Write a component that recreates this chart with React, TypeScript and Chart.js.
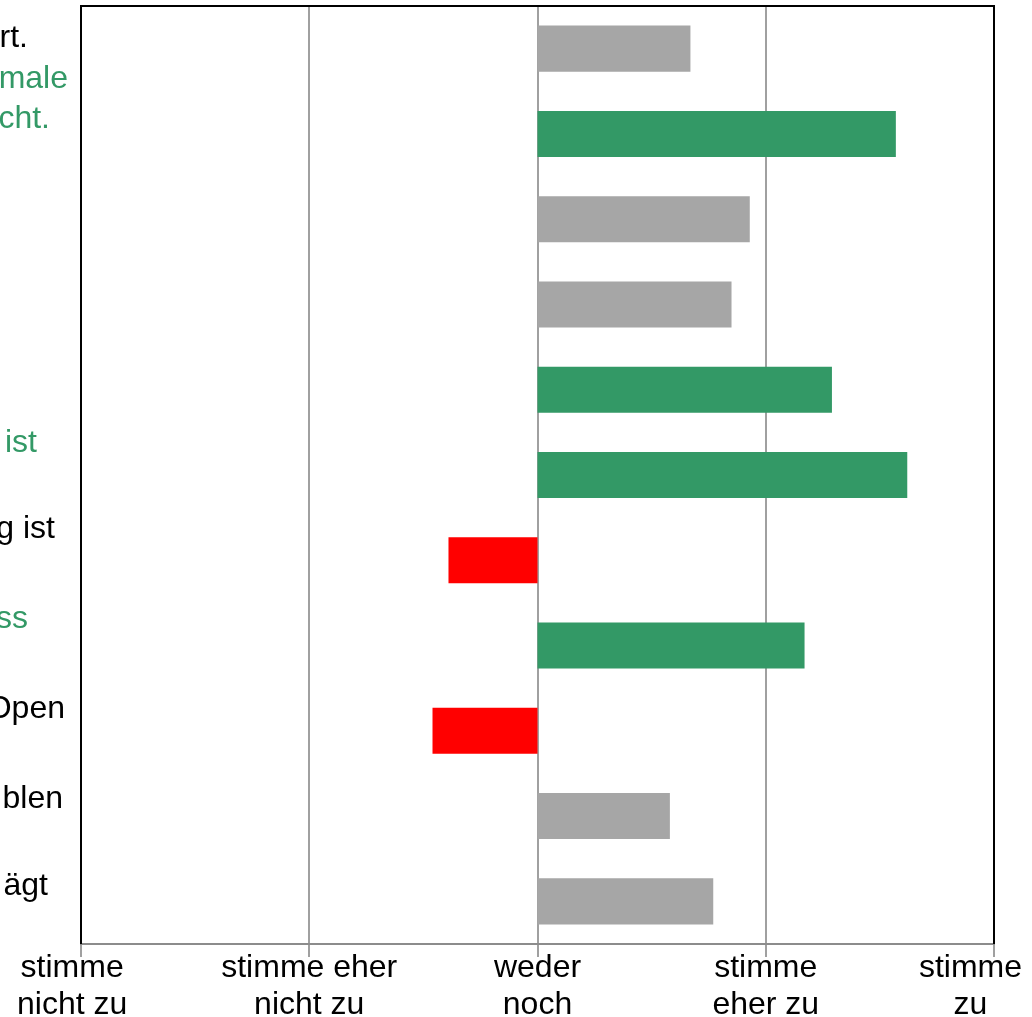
import React, { useEffect, useRef } from "react";
import { Chart, registerables } from "chart.js";

Chart.register(...registerables);

// ---- Data ----
// Category labels (only the visible right-hand fragments of the cropped labels)
const categories: string[][] = [
  ["rt."],
  ["male", "cht."],
  [""],
  [""],
  [""],
  ["ist"],
  ["g ist"],
  ["ss"],
  ["Open"],
  ["blen"],
  ["ägt"],
];

// Mean agreement (1 = stimme nicht zu ... 5 = stimme zu); bars start at 3 (weder noch)
const values: number[] = [3.67, 4.57, 3.93, 3.85, 4.29, 4.62, 2.61, 4.17, 2.54, 3.58, 3.77];
const groups: string[] = ["n", "g", "n", "n", "g", "g", "r", "g", "r", "n", "n"];
const baseValue = 3;

const scaleTickLabels: string[][] = [
  ["stimme", "nicht zu"],
  ["stimme eher", "nicht zu"],
  ["weder", "noch"],
  ["stimme", "eher zu"],
  ["stimme", "zu"],
];

// ---- Styling / layout (kept apart from the data) ----
const COLORS: Record<string, string> = { n: "#a6a6a6", g: "#339966", r: "#ff0000" };
const TEXT_COLORS: Record<string, string> = { n: "#000000", g: "#339966", r: "#000000" };
const FONT = "32px 'Liberation Sans', Arial, sans-serif";
// right edge x and baseline offset (relative to the category centre) of each visible label line
const labelLayout: { x: number; dy: number }[][] = [
  [{ x: 28, dy: -1.5 }],
  [{ x: 68, dy: -46 }, { x: 50, dy: -6 }],
  [],
  [],
  [],
  [{ x: 37, dy: -23 }],
  [{ x: 55, dy: -22 }],
  [{ x: 28, dy: -18 }],
  [{ x: 65, dy: -13 }],
  [{ x: 63, dy: -8 }],
  [{ x: 48, dy: -6.5 }],
];

const framePlugin = {
  id: "frame",
  afterDraw(chart: any) {
    const { ctx, chartArea } = chart;
    const { left, right, top, bottom } = chartArea;
    ctx.save();
    ctx.strokeStyle = "#000000";
    ctx.lineWidth = 2;
    ctx.beginPath();
    ctx.moveTo(left, bottom);
    ctx.lineTo(left, top);
    ctx.lineTo(right, top);
    ctx.lineTo(right, bottom);
    ctx.stroke();
    ctx.restore();
  },
};

const labelsPlugin = {
  id: "customLabels",
  afterDraw(chart: any) {
    const { ctx, chartArea } = chart;
    const xs = chart.scales.x;
    const ys = chart.scales.y;
    ctx.save();
    ctx.font = FONT;
    // category labels
    ctx.textAlign = "right";
    ctx.textBaseline = "alphabetic";
    categories.forEach((lines, i) => {
      const cy = ys.getPixelForValue(i);
      ctx.fillStyle = TEXT_COLORS[groups[i]];
      lines.forEach((line, k) => {
        const lay = labelLayout[i][k];
        if (!lay || !line) return;
        ctx.fillText(line, lay.x, cy + lay.dy);
      });
    });
    // value axis labels (edge labels pinned inside the canvas)
    ctx.fillStyle = "#000000";
    ctx.textAlign = "center";
    const W = chart.width;
    const n = scaleTickLabels.length;
    scaleTickLabels.forEach((lines, i) => {
      const px = xs.getPixelForValue(i + 1);
      const w = Math.max(...lines.map((l) => ctx.measureText(l).width));
      let cx = px;
      if (i === 0) cx = w / 2 + 17;
      if (i === n - 1) cx = W - w / 2 - 10;
      lines.forEach((line, k) => {
        ctx.fillText(line, cx, chartArea.bottom + 33 + k * 37);
      });
    });
    ctx.restore();
  },
};

export default function App() {
  const ref = useRef<HTMLCanvasElement | null>(null);
  useEffect(() => {
    if (!ref.current) return;
    const chart = new Chart(ref.current, {
      type: "bar",
      data: {
        labels: categories,
        datasets: [
          {
            data: values.map((v) => [baseValue, v]) as any,
            backgroundColor: groups.map((g) => COLORS[g]),
            borderWidth: 0,
            barPercentage: 0.54,
            categoryPercentage: 1,
          },
        ],
      },
      options: {
        indexAxis: "y",
        responsive: false,
        animation: false,
        devicePixelRatio: 1,
        layout: { padding: { left: 81, right: 38, top: 6, bottom: 0 } },
        plugins: { legend: { display: false }, tooltip: { enabled: false } },
        scales: {
          x: {
            type: "linear",
            min: 1,
            max: 5,
            ticks: { display: false, stepSize: 1 },
            grid: { color: "#a0a0a0", lineWidth: 2, drawTicks: true, tickLength: 13 },
            border: { color: "#8c8c8c", width: 2 },
            afterFit: (s: any) => {
              s.height = 73;
            },
          },
          y: { display: false },
        },
      } as any,
      plugins: [framePlugin, labelsPlugin],
    });
    return () => chart.destroy();
  }, []);
  return (
    <div style={{ position: "absolute", left: 0, top: 0, width: 1032, height: 1017, background: "#fff" }}>
      <canvas ref={ref} width={1032} height={1017} style={{ display: "block", width: 1032, height: 1017 }} />
    </div>
  );
}
